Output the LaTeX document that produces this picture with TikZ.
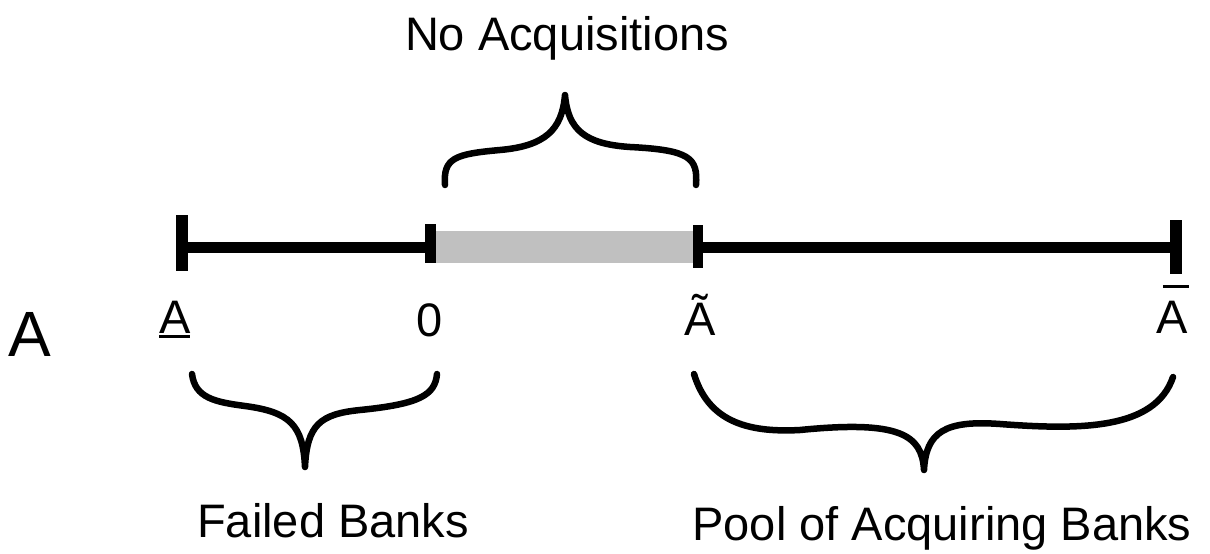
\documentclass[tikz,border=0pt]{standalone}
\usepackage{fontspec}
\setmainfont{Liberation Sans}
\usetikzlibrary{calc}
\definecolor{bargray}{HTML}{C0C0C0}
\begin{document}
\begin{tikzpicture}[x=1pt,y=-1pt,
  lbl/.style={font=\fontsize{47}{56}\selectfont, inner sep=0pt, anchor=base},
  axisbar/.style={line width=11pt},
  tickmark/.style={line width=11pt},
  brace/.style={line width=6.5pt, line cap=round, line join=round}]
\useasboundingbox (0,0) rectangle (1210,554);
% axis points
\coordinate (amin) at (182,247);
\coordinate (zero) at (430,247);
\coordinate (atil) at (698,247);
\coordinate (amax) at (1176,247);
% gray interval
\draw[line width=32pt, bargray] ($(zero)+(5,0)$) -- ($(atil)+(-5,0)$);
% black segments
\draw[axisbar] (amin) -- (zero);
\draw[axisbar] (atil) -- (amax);
% ticks
\draw[tickmark, line width=12pt] ($(amin)+(0,-32)$) -- ($(amin)+(0,24)$);
\draw[tickmark] ($(zero)+(0,-23)$) -- ($(zero)+(0,16)$);
\draw[tickmark, line width=10pt] ($(atil)+(0,-22)$) -- ($(atil)+(0,21)$);
\draw[tickmark, line width=12pt] ($(amax)+(0,-27)$) -- ($(amax)+(0,27)$);
% tick labels
\node[lbl] (lamin) at (175,333) {\rlap{\raisebox{-5pt}{\rule{31pt}{3pt}}}A};
\node[lbl] (lzero) at (430,336) {0};
\node[lbl] (latil) at (700,335) {Ã};
\node[lbl] (lamax) at (1172,333) {\rlap{\hspace{6.5pt}\raisebox{45.5pt}{\rule{26pt}{2.5pt}}}A};
\node[inner sep=0pt, anchor=base, font=\fontsize{64}{70}\selectfont] (bigA) at (30,356) {A};
% group labels
\node[lbl] (noacq) at (567,50) {No Acquisitions};
\node[lbl] (failed) at (333,537) {Failed Banks};
\node[lbl] (pool) at (942,540) {Pool of Acquiring Banks};
% braces
\coordinate (tb1) at (445,185);
\coordinate (tbt) at (565,95);
\coordinate (tb2) at (696,185);
\draw[brace] (tb1) .. controls (443,158) and (455,154) .. (500,150)
  .. controls (545,146) and (562,130) .. (tbt)
  .. controls (568,130) and (585,144) .. (630,147)
  .. controls (690,150) and (698,158) .. (tb2);
\coordinate (lb1) at (192,374);
\coordinate (lbt) at (305,467);
\coordinate (lb2) at (437,374);
\draw[brace] (lb1) .. controls (195,398) and (215,402) .. (245,406)
  .. controls (290,412) and (303,425) .. (lbt)
  .. controls (307,425) and (320,414) .. (360,410)
  .. controls (420,404) and (435,395) .. (lb2);
\coordinate (rb1) at (694,374);
\coordinate (rbt) at (924,470);
\coordinate (rb2) at (1173,377);
\draw[brace] (rb1) .. controls (708,420) and (745,433) .. (800,430)
  .. controls (900,420) and (922,435) .. (rbt)
  .. controls (926,432) and (945,420) .. (1000,424)
  .. controls (1080,430) and (1155,430) .. (rb2);
\end{tikzpicture}
\end{document}
